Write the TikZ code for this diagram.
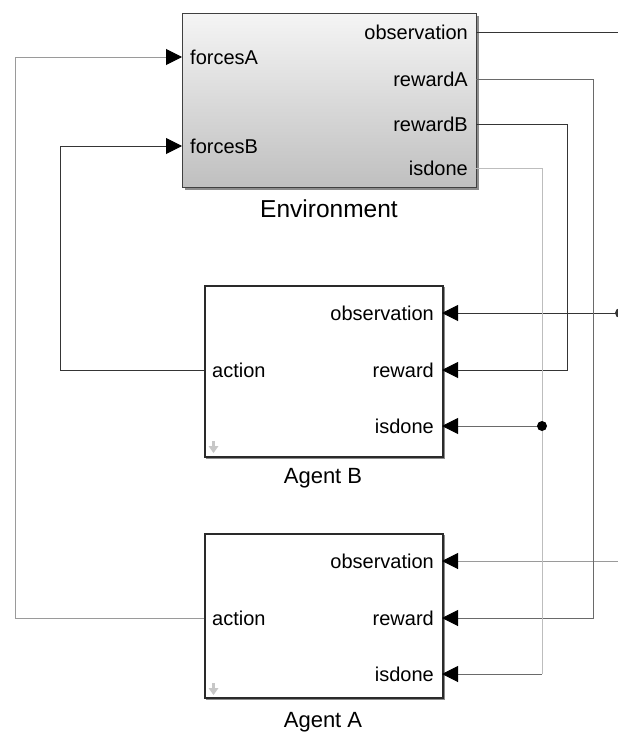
\documentclass[tikz,border=0pt]{standalone}
\usepackage{fontspec}
\setmainfont{Liberation Sans}
\usetikzlibrary{arrows.meta}
\definecolor{lndark}{HTML}{353535}
\definecolor{lngrey}{HTML}{9A9A9A}
\definecolor{lnmid}{HTML}{6A6A6A}
\definecolor{lnlight}{HTML}{BDBDBD}
\definecolor{boxline}{HTML}{2A2A2A}
\begin{document}
\begin{tikzpicture}[x=1pt,y=-1pt,
  wire/.style={line width=1pt},
  arr/.style={-{Triangle[length=16pt,width=16pt,color=black]}},
  port/.style={font=\fontsize{20}{23}\selectfont, inner sep=0pt},
  title/.style={font=\fontsize{22}{25}\selectfont, inner sep=0pt, anchor=base},
  agentbox/.style={draw=boxline, line width=1.5pt, fill=white, minimum width=238pt, inner sep=0pt, anchor=north west},
  shadowbox/.style={fill=black!45},
  icon/.style={fill=black!22}
]
\useasboundingbox (0,0) rectangle (618,736);
\fill[white] (0,0) rectangle (618,736);
\clip (0,0) rectangle (618,736);

% ---------- Environment ----------
\fill[shadowbox] (185,16) rectangle (479,190);
\node[draw=black!75, line width=1pt, top color=black!4, bottom color=black!25,
      minimum width=294pt, minimum height=174pt, inner sep=0pt, anchor=north west] (env) at (182,13) {};
\node[port, anchor=west] (lfA) at (190,57) {forcesA};
\node[port, anchor=west] (lfB) at (190,146) {forcesB};
\node[port, anchor=east] (lobs) at (468,32) {observation};
\node[port, anchor=east] (lrA) at (468,79) {rewardA};
\node[port, anchor=east] (lrB) at (468,124) {rewardB};
\node[port, anchor=east] (ldn) at (468,168) {isdone};
\node[title, font=\fontsize{24.5}{28}\selectfont] (envlabel) at (329,217) {Environment};

\coordinate (fA) at (182,57);
\coordinate (fB) at (182,146);
\coordinate (eobs) at (476,32);
\coordinate (erA) at (476,79);
\coordinate (erB) at (476,124);
\coordinate (edn) at (476,168);

% ---------- Agent B ----------
\fill[shadowbox] (206,287) rectangle (445,459);
\node[agentbox, minimum height=171pt] (agB) at (204,285) {};
\node[port, anchor=east] (lbobs) at (434,313) {observation};
\node[port, anchor=east] (lbrew) at (434,370) {reward};
\node[port, anchor=east] (lbdn) at (434,426) {isdone};
\node[port, anchor=west] (lbact) at (212,370) {action};
\node[title] (labB) at (323,483) {Agent B};
\fill[icon] (212,441) rectangle (215,447);
\fill[icon] (208.5,446) -- (218.5,446) -- (213.5,453) -- cycle;

\coordinate (bobs) at (442,313);
\coordinate (brew) at (442,370);
\coordinate (bdn) at (442,426);
\coordinate (bact) at (204,370);

% ---------- Agent A ----------
\fill[shadowbox] (206,535) rectangle (445,700);
\node[agentbox, minimum height=164pt] (agA) at (204,533) {};
\node[port, anchor=east] (laobs) at (434,561) {observation};
\node[port, anchor=east] (larew) at (434,618) {reward};
\node[port, anchor=east] (ladn) at (434,674) {isdone};
\node[port, anchor=west] (laact) at (212,618) {action};
\node[title] (labA) at (323,727) {Agent A};
\fill[icon] (212,683) rectangle (215,689);
\fill[icon] (208.5,688) -- (218.5,688) -- (213.5,695) -- cycle;

\coordinate (aobs) at (442,561);
\coordinate (arew) at (442,618);
\coordinate (adn) at (442,674);
\coordinate (aact) at (204,618);

% ---------- Connectors ----------
% actions -> forces
\draw[wire, lngrey, arr] (aact) -- ++(-189,0) |- (fA);
\draw[wire, lndark, arr] (bact) -- ++(-144,0) |- (fB);

% observation bus
\coordinate (busO) at (620,313);
\draw[wire, lndark] (eobs) -| (busO);
\draw[wire, lndark, arr] (busO) -- (bobs);
\draw[wire, lngrey, arr] (busO) |- (aobs);
\fill[lndark] (busO) circle (5pt);

% rewards
\draw[wire, lnmid, arr] (erA) -- ++(117,0) |- (arew);
\draw[wire, lndark, arr] (erB) -- ++(91,0) |- (brew);

% isdone bus
\coordinate (busD) at (542,426);
\draw[wire, lnlight] (edn) -- ++(66,0) -- (busD);
\draw[wire, lnlight] (busD) -- (542,674);
\draw[wire, lnmid, arr] (542,674) -- (adn);
\draw[wire, lnmid, arr] (busD) -- (bdn);
\fill[black] (busD) circle (5pt);
\end{tikzpicture}
\end{document}
